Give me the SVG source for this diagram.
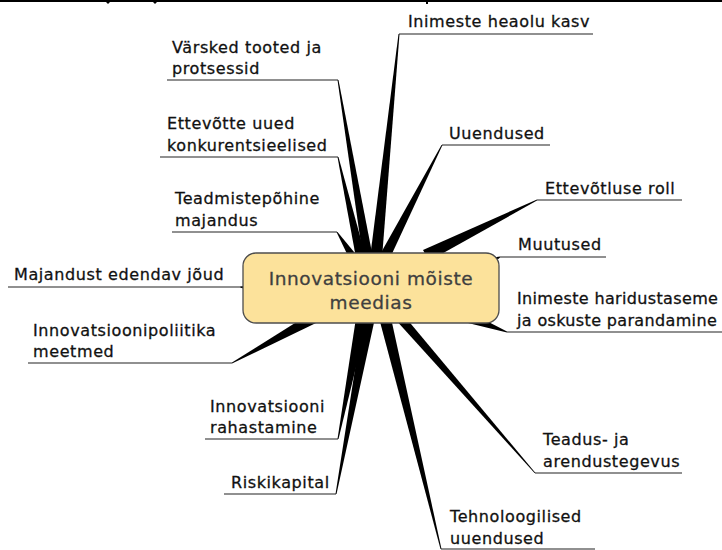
<svg xmlns="http://www.w3.org/2000/svg" width="722" height="550" viewBox="0 0 722 550">
<style>
.lbl{font-family:"DejaVu Sans",Verdana,sans-serif;font-size:16px;letter-spacing:0.6px;fill:#111;stroke:#111;stroke-width:0.3}
.tight{letter-spacing:0.35px}
.ul{stroke:#222;stroke-width:1.2;fill:none}
.sp{fill:#000}
.ctr{font-family:"DejaVu Sans",Verdana,sans-serif;font-size:18.5px;letter-spacing:0.6px;fill:#3f3f3f;stroke:#3f3f3f;stroke-width:0.3;text-anchor:middle}
</style>
<rect width="722" height="550" fill="#fff"/>
<g id="topline">
<line x1="0" y1="1" x2="722" y2="1" stroke="#000" stroke-width="2"/>
<polygon points="105,1 111,1 108,4" fill="#000"/>
<polygon points="152,1 158,1 155,4" fill="#000"/>
<rect x="426" y="1" width="2" height="3" fill="#000"/>
</g>
<g id="connectors">
<polygon class="sp" points="398.5,34 399.5,34 382,258 370,258"/>
<polygon class="sp" points="441.5,145 442.5,145 390,258 378,258"/>
<polygon class="sp" points="537,199.5 537,200.5 429,261 423,250"/>
<polygon class="sp" points="500,256.5 500,257.5 490,266 490,258"/>
<polygon class="sp" points="507,331.5 507,332.5 468,323 471,313"/>
<polygon class="sp" points="534.5,473 535.5,473 406,318 394,318"/>
<polygon class="sp" points="440.5,549 441.5,549 391,318 379,318"/>
<polygon class="sp" points="335.5,494 336.5,494 375,318 363,318"/>
<polygon class="sp" points="337.5,439 338.5,439 368,318 356,318"/>
<polygon class="sp" points="232,362.5 232,363.5 316,323 311,313"/>
<polygon class="sp" points="240,286.5 240,287.5 252,291 252,285"/>
<polygon class="sp" points="336.5,232 337.5,232 359,258 349,258"/>
<polygon class="sp" points="337.5,157 338.5,157 366,258 356,258"/>
<polygon class="sp" points="337.5,80 338.5,80 373,258 363,258"/>
<line class="ul" x1="399" y1="34" x2="593" y2="34"/>
<line class="ul" x1="442" y1="145" x2="550" y2="145"/>
<line class="ul" x1="537" y1="200" x2="682" y2="200"/>
<line class="ul" x1="500" y1="257" x2="606" y2="257"/>
<line class="ul" x1="507" y1="332" x2="722" y2="332"/>
<line class="ul" x1="535" y1="473" x2="682" y2="473"/>
<line class="ul" x1="441" y1="549" x2="595" y2="549"/>
<line class="ul" x1="224" y1="494" x2="336" y2="494"/>
<line class="ul" x1="205" y1="439" x2="338" y2="439"/>
<line class="ul" x1="28" y1="363" x2="232" y2="363"/>
<line class="ul" x1="8" y1="287" x2="240" y2="287"/>
<line class="ul" x1="172" y1="232" x2="337" y2="232"/>
<line class="ul" x1="160" y1="157" x2="338" y2="157"/>
<line class="ul" x1="167" y1="80" x2="338" y2="80"/>
</g>
<g id="center">
<rect x="243" y="253" width="256" height="70" rx="13" fill="#FCE29B" stroke="#4d4d4d" stroke-width="1.3"/>
<text class="ctr" x="371" y="285">Innovatsiooni mõiste</text>
<text class="ctr" x="371" y="309">meedias</text>
</g>
<g id="n1"><text class="lbl" x="408" y="27">Inimeste heaolu kasv</text></g>
<g id="n2"><text class="lbl" x="449" y="139">Uuendused</text></g>
<g id="n3"><text class="lbl" x="545" y="194">Ettevõtluse roll</text></g>
<g id="n4"><text class="lbl" x="518" y="250">Muutused</text></g>
<g id="n5"><text class="lbl tight" x="517" y="304">Inimeste haridustaseme</text><text class="lbl tight" x="517" y="326">ja oskuste parandamine</text></g>
<g id="n6"><text class="lbl" x="543" y="445">Teadus- ja</text><text class="lbl" x="543" y="467">arendustegevus</text></g>
<g id="n7"><text class="lbl" x="450" y="522">Tehnoloogilised</text><text class="lbl" x="450" y="544">uuendused</text></g>
<g id="n8"><text class="lbl" x="231" y="488">Riskikapital</text></g>
<g id="n9"><text class="lbl" x="210" y="412">Innovatsiooni</text><text class="lbl" x="210" y="433">rahastamine</text></g>
<g id="n10"><text class="lbl" x="33" y="336">Innovatsioonipoliitika</text><text class="lbl" x="33" y="357">meetmed</text></g>
<g id="n11"><text class="lbl" x="14" y="280">Majandust edendav jõud</text></g>
<g id="n12"><text class="lbl" x="175" y="204">Teadmistepõhine</text><text class="lbl" x="175" y="226">majandus</text></g>
<g id="n13"><text class="lbl" x="167" y="129">Ettevõtte uued</text><text class="lbl" x="167" y="151">konkurentsieelised</text></g>
<g id="n14"><text class="lbl" x="172" y="53">Värsked tooted ja</text><text class="lbl" x="172" y="74">protsessid</text></g>
</svg>
